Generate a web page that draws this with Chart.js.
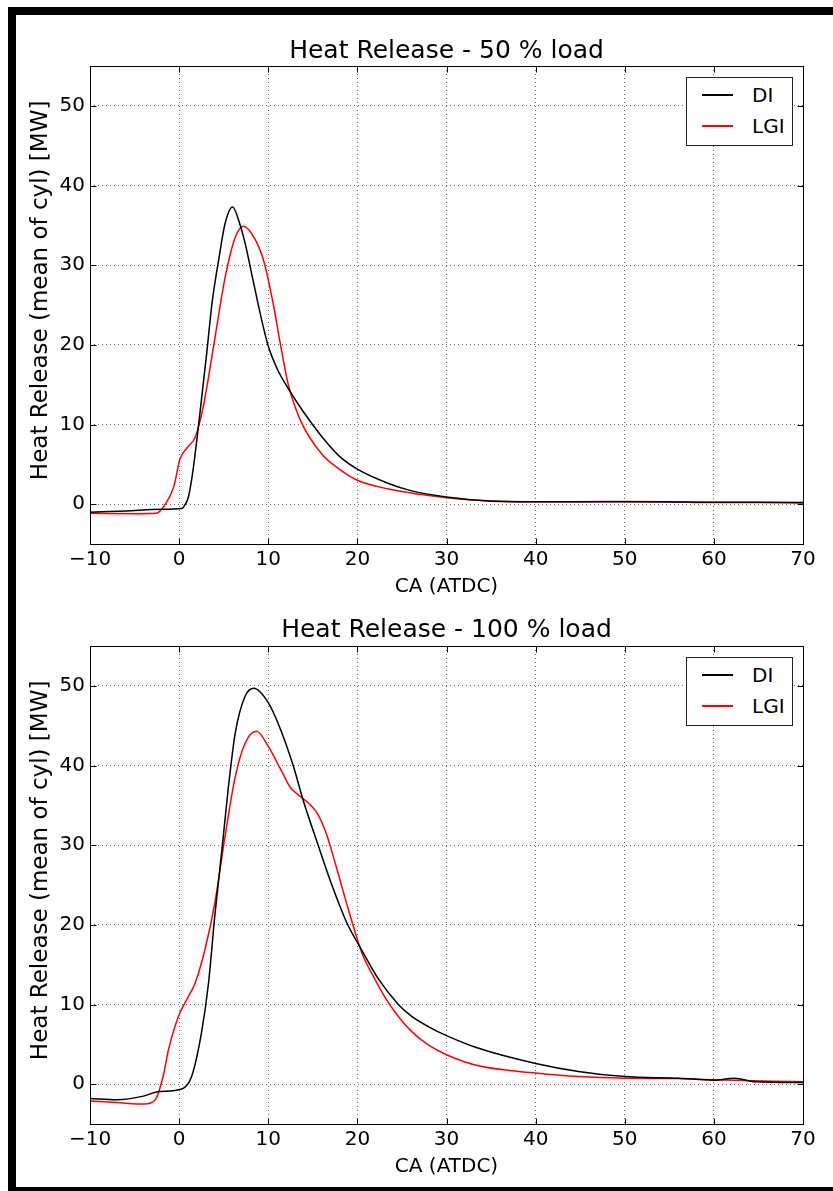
<!DOCTYPE html>
<html>
<head>
<meta charset="utf-8">
<script src="https://cdn.jsdelivr.net/npm/chart.js@4.4.1/dist/chart.umd.min.js"></script>
<style>
  html, body { margin: 0; background: #fff; overflow: hidden; font-family: "DejaVu Sans", sans-serif; }
  #page { position: relative; width: 833px; height: 1191px; overflow: hidden; }
  .band { position: absolute; background: #000; z-index: 5; }
  canvas { position: absolute; left: 0; }
  .legenda { position: absolute; z-index: 4; background: #fff; border: 1px solid #222; width: 105px; height: 67px; }
  .item { position: absolute; left: 0; height: 24px; width: 105px; font-size: 20px; color: #000; }
  .item span.linha { position: absolute; left: 15px; width: 31px; top: 11px; height: 2px; }
  .item span.txt { position: absolute; left: 65px; top: 0; line-height: 24px; }
</style>
</head>
<body>
<div id="page">
  <div class="band" style="left:8px; top:7px; width:825px; height:8px;"></div>
  <div class="band" style="left:8px; top:7px; width:8px; height:1184px;"></div>
  <div class="band" style="left:8px; top:1187px; width:825px; height:4px;"></div>
  <canvas id="graf50" width="893" height="590" style="top:20px;"></canvas>
  <canvas id="graf100" width="893" height="590" style="top:600px;"></canvas>
  <div id="leg50" class="legenda"></div>
  <div id="leg100" class="legenda"></div>
</div>
<script>
// 50 % load
const ca50DI = [-10, -6, -2, 0.3, 0.7, 1.04, 1.5, 2.16, 3.1, 3.7, 4.4, 5.15, 6, 6.8, 7.5, 8.14, 9.93, 11, 12.25, 14, 16, 18, 20, 23.5, 26, 30, 34.7, 40, 50, 60, 70];
const hr50DI = [-1.0, -0.85, -0.65, -0.55, 0, 0.9, 3.8, 9.7, 19.0, 25.3, 30.4, 35.2, 37.3, 35.2, 32.3, 28.9, 20.1, 17.0, 14.5, 11.5, 8.5, 6.0, 4.4, 2.6, 1.7, 0.9, 0.4, 0.3, 0.3, 0.25, 0.2];
const ca50LGI = [-10, -5, -2.6, -1.6, -0.6, 0.1, 1.0, 1.8, 2.7, 3.85, 5.15, 6.3, 7.2, 8.5, 9.5, 10.5, 11.3, 12.25, 13.7, 16, 17.85, 20, 23.5, 27.2, 30, 35, 40, 45, 50, 55, 60, 65, 70];
const hr50LGI = [-1.15, -1.2, -1.15, -0.1, 2.2, 5.7, 7.2, 8.4, 12.2, 19.7, 28.4, 33.5, 34.9, 33.3, 30.5, 25.5, 20.5, 15.0, 10.3, 6.3, 4.5, 3.0, 1.9, 1.2, 0.8, 0.4, 0.3, 0.3, 0.35, 0.3, 0.2, 0.2, 0.15];

// 100 % load
const ca100DI = [-10, -7, -4, -2.4, 0.3, 1.4, 2.5, 3.3, 4.0, 4.8, 5.5, 6.3, 7.4, 8.4, 10, 11.1, 12.8, 13.9, 15.6, 17.2, 18.8, 20.5, 22.3, 24.6, 26.1, 28, 30, 33.6, 40, 44.8, 50, 56, 60, 62.3, 64.6, 70];
const hr100DI = [-1.8, -1.95, -1.5, -0.95, -0.6, 0.96, 6.4, 12.7, 21.1, 29.4, 37, 44.1, 48.7, 49.7, 47.9, 45.3, 40, 35.7, 30, 24.8, 20.3, 16.8, 13.3, 10.0, 8.5, 7.2, 6.1, 4.5, 2.6, 1.6, 0.95, 0.75, 0.5, 0.75, 0.3, 0.2];
const ca100LGI = [-10, -7, -3.9, -2.7, -1.8, -1.2, -0.08, 1.04, 1.8, 2.9, 4.0, 5.15, 6.3, 7.4, 8.7, 10, 11.5, 12.5, 13.5, 14.5, 15.5, 16.5, 17.5, 19, 20.5, 22, 23.5, 24.6, 26.1, 28, 30, 33.6, 40, 44.8, 50, 56, 60, 70];
const hr100LGI = [-2.1, -2.3, -2.5, -2.0, 0.96, 4.3, 8.5, 11, 12.7, 16.9, 22.7, 31.1, 38.6, 42.8, 44.3, 42.4, 39.3, 37.2, 36.2, 35.3, 34.0, 31.5, 27.8, 21.9, 16.5, 13.1, 10.2, 8.5, 6.6, 4.9, 3.7, 2.3, 1.4, 0.95, 0.75, 0.7, 0.55, 0.3];

const nomesSeries = ['DI', 'LGI'];
const coresSeries = ['#000000', '#ff0000'];
const titulos = ['Heat Release - 50 % load', 'Heat Release - 100 % load'];
const rotuloX = 'CA (ATDC)';
const rotuloY = 'Heat Release (mean of cyl) [MW]';
const limitesX = [-10, 70];
const limitesY = [-5, 55];
const ticksX = [-10, 0, 10, 20, 30, 40, 50, 60, 70];
const ticksY = [0, 10, 20, 30, 40, 50];

function pares(xs, ys) {
    return xs.map((x, i) => ({x: x, y: ys[i]}));
}

function formatar(v) {
    return v < 0 ? '\u2212' + Math.abs(v) : String(v);
}

// moldura e ticks para dentro, estilo matplotlib
const moldura = {
    id: 'moldura',
    afterDatasetsDraw(chart) {
        const {ctx, chartArea: a, scales} = chart;
        const L = Math.round(a.left) + 0.5, R = Math.round(a.right) + 0.5;
        const T = Math.round(a.top) + 0.5, B = Math.round(a.bottom) + 0.5;
        ctx.save();
        ctx.strokeStyle = '#000';
        ctx.lineWidth = 1;
        ctx.beginPath();
        scales.x.ticks.forEach(t => {
            const px = Math.round(scales.x.getPixelForValue(t.value)) + 0.5;
            ctx.moveTo(px, B); ctx.lineTo(px, B - 6);
            ctx.moveTo(px, T); ctx.lineTo(px, T + 6);
        });
        scales.y.ticks.forEach(t => {
            const py = Math.round(scales.y.getPixelForValue(t.value)) + 0.5;
            ctx.moveTo(L, py); ctx.lineTo(L + 6, py);
            ctx.moveTo(R, py); ctx.lineTo(R - 6, py);
        });
        ctx.stroke();
        ctx.strokeRect(L, T, R - L, B - T);
        ctx.restore();
    }
};

function criarGrafico(id, titulo, serieDI, serieLGI, topoTitulo, baseTitulo) {
    const ctx = document.getElementById(id).getContext('2d');
    const series = [serieDI, serieLGI];
    return new Chart(ctx, {
        type: 'line',
        data: {
            datasets: series.map((s, i) => ({
                label: nomesSeries[i],
                data: s,
                borderColor: coresSeries[i],
                borderWidth: 1.5,
                pointRadius: 0,
                fill: false,
                cubicInterpolationMode: 'monotone'
            }))
        },
        options: {
            responsive: false,
            animation: false,
            devicePixelRatio: 1,
            layout: { padding: 0 },
            plugins: {
                legend: { display: false },
                tooltip: { enabled: false },
                title: {
                    display: true,
                    text: titulo,
                    color: '#000',
                    font: { family: 'DejaVu Sans', size: 25, weight: 'normal' },
                    padding: { top: topoTitulo, bottom: baseTitulo }
                }
            },
            scales: {
                x: {
                    type: 'linear',
                    min: limitesX[0], max: limitesX[1],
                    afterFit: s => { s.height = 66; },
                    afterBuildTicks: s => { s.ticks = ticksX.map(v => ({value: v})); },
                    ticks: { color: '#000', padding: 4, maxRotation: 0,
                        font: { family: 'DejaVu Sans', size: 20 }, callback: formatar },
                    grid: { color: 'rgba(0,0,0,0.6)', lineWidth: 1, drawTicks: false },
                    border: { display: false, dash: [1, 3] },
                    title: { display: true, text: rotuloX, color: '#000',
                        font: { family: 'DejaVu Sans', size: 20 }, padding: { top: 0, bottom: 11 } }
                },
                y: {
                    min: limitesY[0], max: limitesY[1],
                    afterFit: s => { s.width = 90; },
                    afterBuildTicks: s => { s.ticks = ticksY.map(v => ({value: v})); },
                    ticks: { color: '#000', padding: 5,
                        font: { family: 'DejaVu Sans', size: 20 }, callback: formatar },
                    grid: { color: 'rgba(0,0,0,0.6)', lineWidth: 1, drawTicks: false },
                    border: { display: false, dash: [1, 3] },
                    // espaços no início sobem o rótulo uns 15 px, como no original
                    title: { display: true, text: '\u00a0\u00a0\u00a0\u00a0' + rotuloY, color: '#000',
                        font: { family: 'DejaVu Sans', size: 23 }, padding: { top: 27, bottom: 0 } }
                },
                // eixo vazio à direita só para reservar espaço e centrar o título sobre o gráfico
                yDir: {
                    position: 'right',
                    min: limitesY[0], max: limitesY[1],
                    afterFit: s => { s.width = 90; },
                    ticks: { display: false },
                    grid: { display: false },
                    border: { display: false }
                }
            }
        },
        plugins: [moldura]
    });
}

function montarLegenda(divId, grafico, topoCanvas) {
    const a = grafico.chartArea;
    const div = document.getElementById(divId);
    div.style.left = (a.right - 117) + 'px';
    div.style.top = (topoCanvas + a.top + 11) + 'px';
    div.innerHTML = grafico.data.datasets.map((d, i) => `
        <div class="item" style="top:${5 + i * 31}px">
            <span class="linha" style="background:${d.borderColor}"></span>
            <span class="txt">${d.label}</span>
        </div>`).join('');
}

const g50 = criarGrafico('graf50', titulos[0], pares(ca50DI, hr50DI), pares(ca50LGI, hr50LGI), 16, 0);
const g100 = criarGrafico('graf100', titulos[1], pares(ca100DI, hr100DI), pares(ca100LGI, hr100LGI), 15, 1);
montarLegenda('leg50', g50, 20);
montarLegenda('leg100', g100, 600);
</script>
</body>
</html>
